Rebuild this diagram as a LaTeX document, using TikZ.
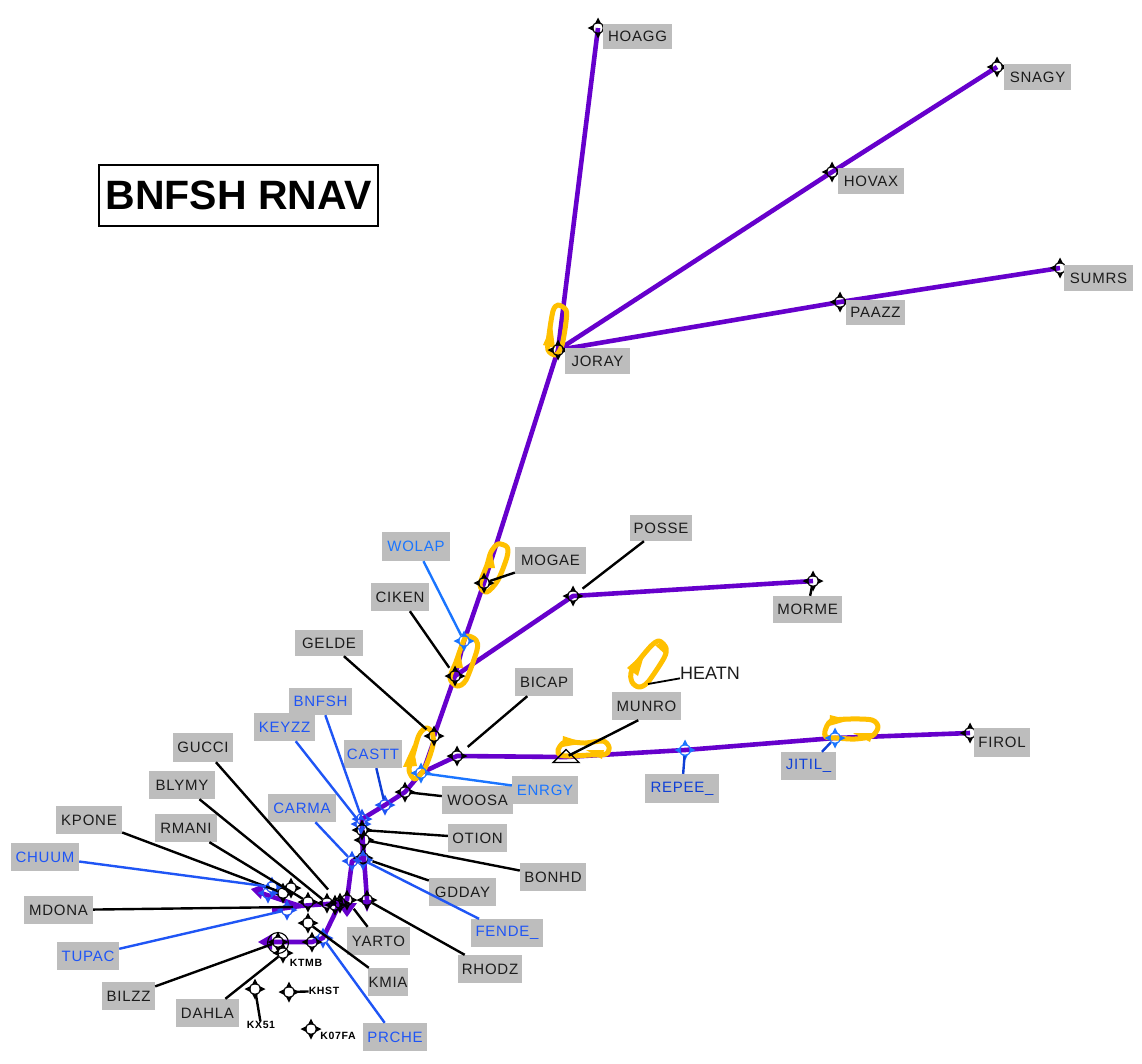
\documentclass[tikz,border=0pt]{standalone}
\usepackage{fontspec}
\setmainfont{Liberation Sans}
\newfontfamily\lablfont[LetterSpace=5]{Liberation Sans}
\newfontfamily\smallfont[LetterSpace=6]{Liberation Sans}
\definecolor{routec}{HTML}{6600CC}
\definecolor{holdc}{HTML}{FFC000}
\definecolor{bluec}{HTML}{1F55F5}
\definecolor{lightbluec}{HTML}{1A75FF}
\definecolor{darkbluec}{HTML}{0F3FD6}
\definecolor{boxc}{HTML}{BDBDBD}
\definecolor{inkc}{HTML}{1C1C1C}
\pgfdeclarelayer{bg}
\pgfsetlayers{bg,main}
\tikzset{
  wpmark/.style={circle,draw,line width=1.1pt,inner sep=0pt,minimum size=11pt},
  labelbox/.style={fill=boxc,inner sep=0pt,font=\fontsize{15}{15}\selectfont\lablfont,text=inkc},
  bluebox/.style={labelbox,text=bluec},
  lead/.style={draw=black,line width=2.4pt},
  bluelead/.style={draw=bluec,line width=2.4pt},
  route/.style={draw=routec,line width=4.6pt,line join=round},
  holdpath/.style={draw=holdc,line width=5pt,line join=round},
  tinytext/.style={inner sep=0pt,font=\fontsize{10.5}{10.5}\selectfont\bfseries\smallfont,text=black},
}
\newcommand{\wpt}[4]{%
  \node[wpmark,draw=#4] (#1) at (#2,#3) {};
  \foreach \aa in {0,90,180,270}{\fill[#4,shift={(#2,#3)},rotate=\aa] (4.5,-3)--(10.5,0)--(4.5,3)--cycle;}
}
\newcommand{\lbl}[7]{%
  \node[#7,minimum width={(#4-#2)*1pt},minimum height={(#5-#3)*1pt}] (#1) at ({(#2+#4)/2},{(#3+#5)/2}) {#6};
}
\begin{document}
\begin{tikzpicture}[x=1pt,y=-1pt]
\useasboundingbox (0,0) rectangle (1142,1063);
% title
\node[draw=black,line width=1.2pt,fill=white,minimum width=279pt,minimum height=61pt,inner sep=0pt,font=\fontsize{41}{41}\selectfont\bfseries] (title) at (238.5,195.5) {\raisebox{-2pt}{BNFSH RNAV}};
% waypoints
\wpt{HOAGG}{598}{28}{black}
\wpt{SNAGY}{997}{67}{black}
\wpt{HOVAX}{832}{172}{black}
\wpt{PAAZZ}{840}{302}{black}
\wpt{SUMRS}{1060}{268}{black}
\wpt{JORAY}{558}{350}{black}
\wpt{MOGAE}{484}{583}{black}
\wpt{POSSE}{573}{596}{black}
\wpt{MORME}{813}{581}{black}
\wpt{WOLAP}{464}{641}{lightbluec}
\wpt{CIKEN}{455}{676}{black}
\wpt{GELDE}{434}{736}{black}
\wpt{BICAP}{457}{756}{black}
\wpt{REPEE}{685}{750}{lightbluec}
\wpt{JITIL}{835}{738}{lightbluec}
\wpt{FIROL}{970}{733}{black}
\wpt{ENRGY}{421}{773}{lightbluec}
\wpt{WOOSA}{405}{792}{black}
\wpt{CASTT}{385}{805}{bluec}
\wpt{BNFSH}{362}{819}{bluec}
\wpt{KEYZZ}{361}{824}{bluec}
\wpt{OTION}{362}{830}{black}
\wpt{BONHD}{364}{840}{black}
\wpt{GDDAY}{363}{858}{black}
\wpt{FENDE}{363}{860}{bluec}
\wpt{CARMA}{352}{861}{bluec}
\wpt{RHODZ}{367}{900}{black}
\wpt{YARTO}{347}{900}{black}
\wpt{GUCCI}{340}{903}{black}
\wpt{XTRA}{335}{905}{black}
\wpt{BLYMY}{327}{903}{black}
\wpt{RMANI}{308}{902}{black}
\wpt{KMIA}{308}{923}{black}
\wpt{PRCHE}{323}{938}{bluec}
\wpt{XTRB}{312}{942}{black}
\wpt{BILZZ}{278}{942}{black}
\wpt{DAHLA}{283}{953}{black}
\wpt{KPONE}{283}{893}{black}
\wpt{XTRC}{291}{888}{black}
\wpt{CHUUM}{272}{887}{bluec}
\wpt{TUPAC}{287}{910}{bluec}
\wpt{XTRD}{268}{893}{bluec}
\wpt{KX}{255}{989}{black}
\wpt{KHST}{289}{992}{black}
\wpt{KSF}{311}{1029}{black}
\node[circle,draw=black,line width=1.1pt,minimum size=21pt,inner sep=0pt] (KTMB) at (278,943) {};
\coordinate (MDONAEND) at (293,907);
\coordinate (MUNRO) at (566,757);
\coordinate (HEATN) at (648,684);
\coordinate (WEST) at (300,906);
\coordinate (WESTA) at (258,892);
\coordinate (WESTB) at (272,910);
\coordinate (SOUTHA) at (266,942);
\draw[black,line width=1.4pt] (553,762.5)--(566,749.5)--(579,762.5)--cycle;
% routes and holds
\begin{pgfonlayer}{bg}
\fill[white] (0,0) rectangle (1142,1063);
\draw[route] (HOAGG.center)--(JORAY.center);
\draw[route] (SNAGY.center)--(HOVAX.center)--(JORAY.center);
\draw[route] (SUMRS.center)--(PAAZZ.center)--(JORAY.center);
\draw[route] (JORAY.center)--(MOGAE.center)--(WOLAP.center)--(CIKEN.center)--(GELDE.center);
\draw[route,line width=1.5pt] (GELDE.center)--(ENRGY.center);
\draw[route] (MORME.center)--(POSSE.center)--(CIKEN.center);
\draw[route] (FIROL.center)--(JITIL.center)--(REPEE.center)--(MUNRO)--(BICAP.center)--(ENRGY.center)--(WOOSA.center)--(CASTT.center)--(BNFSH.center)--(OTION.center)--(GDDAY.center)--(CARMA.center)--(YARTO.center)--(GUCCI.center)--(WEST)--(WESTA);
\draw[route] (WEST)--(WESTB);
\draw[route] (OTION.center)--(RHODZ.center);
\draw[route] (GUCCI.center)--(PRCHE.center)--(XTRB.center)--(SOUTHA);
\fill[routec] (251,889)--(264,884)--(261,899)--cycle;
\fill[routec] (258,942)--(272,934)--(272,950)--cycle;
\fill[routec] (347,917)--(337,903)--(357,903)--cycle;
\fill[routec] (367,912)--(362,900)--(372,900)--cycle;
% holds
\draw[holdpath] plot[smooth cycle] coordinates {(553,311)(558,305)(566,310)(566,322)(562,345)(556,355)(548,350)(549,335)};
\fill[holdc] (543,345)--(552,325)--(555,348)--cycle;
\draw[holdpath] plot[smooth cycle] coordinates {(491,552)(498,544)(507,547)(507,557)(498,580)(487,592)(480,585)(487,565)};
\fill[holdc] (486,568)--(491,548)--(495,568)--cycle;
\draw[holdpath] plot[smooth cycle] coordinates {(462,645)(467,636)(476,640)(477,650)(466,680)(457,686)(450,678)(456,662)};
\fill[holdc] (454,668)--(459,648)--(463,668)--cycle;
\draw[holdpath] plot[smooth cycle] coordinates {(419,735)(426,728)(432,732)(433,745)(425,768)(415,779)(409,770)(413,755)};
\fill[holdc] (403,767)--(413,745)--(417,766)--cycle;
\draw[holdpath] plot[smooth cycle] coordinates {(558,750)(565,742)(585,743)(603,741)(609,747)(606,754)(590,755)(570,756)(560,755)};
\fill[holdc] (563,736)--(585,743)--(562,747)--cycle;
\fill[holdc] (602,759)--(586,750)--(604,750)--cycle;
\draw[holdpath] plot[smooth cycle] coordinates {(650,647)(659,641)(666,648)(664,658)(648,682)(639,687)(632,682)(632,670)};
\fill[holdc] (627,668)--(645,652)--(638,676)--cycle;
\fill[holdc] (667,656)--(655,645)--(665,642)--cycle;
\draw[holdpath] plot[smooth cycle] coordinates {(825,731)(831,721)(850,719)(872,720)(878,727)(872,736)(855,739)(836,738)(826,737)};
\fill[holdc] (830,715)--(850,720)--(829,726)--cycle;
\fill[holdc] (870,742)--(853,733)--(873,733)--cycle;
\end{pgfonlayer}
% labels
\lbl{HOAGGl}{603}{24}{672}{49}{HOAGG}{labelbox}
\lbl{SNAGYl}{1004}{64}{1071}{90}{SNAGY}{labelbox}
\lbl{HOVAXl}{838}{168}{904}{194}{HOVAX}{labelbox}
\lbl{PAAZZl}{846}{300}{905}{325}{PAAZZ}{labelbox}
\lbl{SUMRSl}{1064}{265}{1133}{291}{SUMRS}{labelbox}
\lbl{JORAYl}{565}{348}{630}{374}{JORAY}{labelbox}
\lbl{MOGAEl}{515}{547}{586}{574}{MOGAE}{labelbox}
\lbl{POSSEl}{630}{515}{692}{541}{POSSE}{labelbox}
\lbl{MORMEl}{773}{596}{842}{623}{MORME}{labelbox}
\lbl{WOLAPl}{382}{532}{450}{561}{\textcolor{lightbluec}{WOLAP}}{bluebox}
\lbl{CIKENl}{371}{583}{429}{611}{CIKEN}{labelbox}
\lbl{GELDEl}{295}{630}{363}{656}{GELDE}{labelbox}
\lbl{BICAPl}{515}{668}{573}{696}{BICAP}{labelbox}
\lbl{MUNROl}{612}{692}{681}{720}{MUNRO}{labelbox}
\lbl{REPEEl}{645}{774}{719}{803}{\textcolor{darkbluec}{REPEE\_}}{bluebox}
\lbl{JITILl}{781}{752}{836}{780}{\textcolor{darkbluec}{JITIL\_}}{bluebox}
\lbl{FIROLl}{974}{728}{1030}{757}{FIROL}{labelbox}
\lbl{ENRGYl}{512}{776}{578}{804}{\textcolor{lightbluec}{ENRGY}}{bluebox}
\lbl{WOOSAl}{442}{786}{513}{814}{WOOSA}{labelbox}
\lbl{CASTTl}{344}{740}{402}{768}{CASTT}{bluebox}
\lbl{BNFSHl}{289}{688}{352}{715}{BNFSH}{bluebox}
\lbl{KEYZZl}{254}{713}{315}{741}{KEYZZ}{bluebox}
\lbl{CARMAl}{268}{794}{336}{822}{CARMA}{bluebox}
\lbl{OTIONl}{448}{824}{507}{852}{OTION}{labelbox}
\lbl{BONHDl}{520}{863}{586}{891}{BONHD}{labelbox}
\lbl{GDDAYl}{429}{878}{496}{906}{GDDAY}{labelbox}
\lbl{FENDEl}{471}{919}{543}{947}{FENDE\_}{bluebox}
\lbl{YARTOl}{347}{927}{410}{955}{YARTO}{labelbox}
\lbl{RHODZl}{458}{955}{522}{983}{RHODZ}{labelbox}
\lbl{KMIAl}{368}{968}{408}{996}{KMIA}{labelbox}
\lbl{PRCHEl}{363}{1023}{427}{1051}{PRCHE}{bluebox}
\lbl{GUCCIl}{173}{733}{233}{762}{GUCCI}{labelbox}
\lbl{BLYMYl}{149}{771}{215}{799}{BLYMY}{labelbox}
\lbl{RMANIl}{155}{814}{217}{842}{RMANI}{labelbox}
\lbl{KPONEl}{56}{806}{122}{834}{KPONE}{labelbox}
\lbl{CHUUMl}{11}{843}{79}{871}{CHUUM}{bluebox}
\lbl{MDONAl}{24}{896}{93}{924}{MDONA}{labelbox}
\lbl{TUPACl}{57}{942}{119}{970}{TUPAC}{bluebox}
\lbl{BILZZl}{102}{982}{155}{1010}{BILZZ}{labelbox}
\lbl{DAHLAl}{176}{999}{239}{1027}{DAHLA}{labelbox}
\node[inner sep=0pt,font=\fontsize{18}{18}\selectfont,text=inkc] (HEATNl) at (710,673) {HEATN};
\node[tinytext] (KTMBl) at (306,963) {KTMB};
\node[tinytext] (KHSTl) at (324,991) {KHST};
\node[tinytext] (KXl) at (261,1025) {KX51};
\node[tinytext] (KSFl) at (338,1036) {K07FA};
% leaders
\draw[lead,shorten >=6pt] (POSSEl)--(POSSE);
\draw[lead] (MOGAEl)--(MOGAE);
\draw[lead,shorten >=4pt] (CIKENl)--(CIKEN);
\draw[lead,shorten >=4pt] (GELDEl)--(GELDE);
\draw[lead,shorten >=8pt] (BICAPl)--(BICAP);
\draw[lead,shorten >=3pt] (MUNROl.240)--(MUNRO);
\draw[lead,line width=1.8pt] (HEATNl)--(HEATN);
\draw[lead] (MORMEl)--(MORME);
\draw[lead] (WOOSAl)--(WOOSA);
\draw[lead] (OTIONl)--(OTION);
\draw[lead] (BONHDl)--(BONHD);
\draw[lead,shorten >=4pt] (GDDAYl)--(GDDAY);
\draw[lead,shorten >=5pt] (YARTOl)--(YARTO);
\draw[lead] (RHODZl)--(RHODZ);
\draw[lead] (KMIAl)--(KMIA);
\draw[lead,shorten >=12pt] (GUCCIl)--(GUCCI);
\draw[lead] (BLYMYl)--(BLYMY);
\draw[lead] (RMANIl)--(RMANI);
\draw[lead] (KPONEl)--(KPONE);
\draw[lead] (MDONAl)--(MDONAEND);
\draw[lead] (BILZZl)--(BILZZ);
\draw[lead] (DAHLAl)--(DAHLA);
\draw[lead] (KXl)--(KX);
\draw[lead] (KHSTl)--(KHST);
\draw[bluelead,draw=lightbluec] (WOLAPl)--(WOLAP);
\draw[bluelead,draw=lightbluec] (ENRGYl)--(ENRGY);
\draw[bluelead,draw=darkbluec] (CASTTl)--(CASTT);
\draw[bluelead] (BNFSHl)--(BNFSH);
\draw[bluelead] (KEYZZl)--(KEYZZ);
\draw[bluelead] (CARMAl)--(CARMA);
\draw[bluelead] (FENDEl)--(FENDE);
\draw[bluelead] (PRCHEl)--(PRCHE);
\draw[bluelead] (CHUUMl)--(CHUUM);
\draw[bluelead] (TUPACl)--(TUPAC);
\draw[bluelead,draw=darkbluec] (REPEEl)--(REPEE);
\draw[bluelead,draw=darkbluec] (JITILl)--(JITIL);
\end{tikzpicture}
\end{document}
